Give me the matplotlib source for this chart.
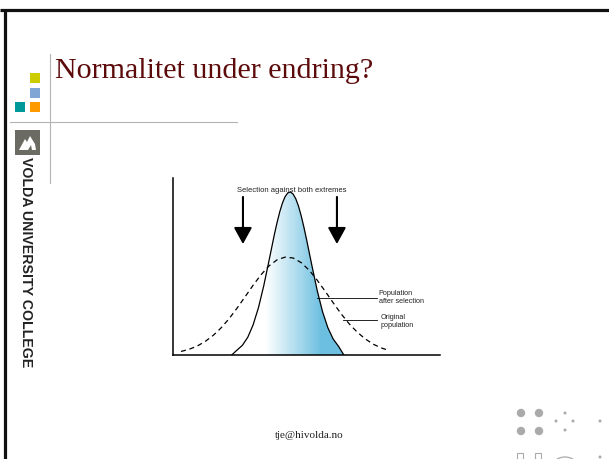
#!/usr/bin/python3
# -*- coding: utf8 -*-

# slide: stabiliserende seleksjon, to normalfordelinger
import numpy as np
import matplotlib
matplotlib.use('Agg')
from matplotlib import pyplot as plt
from matplotlib.colors import LinearSegmentedColormap
from matplotlib.patches import Rectangle, Circle, Polygon

# ---- data (chart units: x 0..100, y 0..100) ----
x_after = [22, 24, 26, 28, 30, 32, 34, 36, 38, 39, 40, 41, 42, 43, 44,
           45, 46, 47, 48, 49, 50, 52, 54, 56, 58, 60, 62, 64]
y_after = [0.0, 2.8, 5.5, 10.0, 17.0, 26.7, 39.2, 53.6, 68.3, 75.0, 81.0, 85.9, 89.5, 91.6, 92.1,
           90.9, 88.2, 84.1, 78.7, 72.4, 65.4, 50.7, 36.5, 24.5, 15.4, 9.0, 4.9, 0.0]

x_orig = [3, 6, 9, 12, 15, 18, 21, 24, 27, 30, 33, 36, 39, 42,
          45, 48, 51, 54, 57, 60, 63, 66, 69, 72, 75, 78, 81]
y_orig = [2.0, 3.2, 5.0, 7.6, 11.0, 15.3, 20.5, 26.5, 32.9, 39.4, 45.4, 50.4, 53.8, 55.3,
          54.8, 52.2, 47.9, 42.3, 36.0, 29.5, 23.2, 17.6, 12.9, 9.1, 6.1, 4.0, 2.5]

arrow_x = [26.2, 61.4]
arrow_top = 89.3
arrow_tip = 62.7

title = 'Normalitet under endring?'
top_label = 'Selection against both extremes'
lbl_after = 'Population\nafter selection'
lbl_orig = 'Original\npopulation'
footer = 'tje@hivolda.no'
side_text = 'VOLDA UNIVERSITY COLLEGE'

W, H = 609, 459
fig = plt.figure(figsize=(W/100, H/100), dpi=100)

# background axes in pixel coords for slide decoration
bg = fig.add_axes([0, 0, 1, 1])
bg.set_xlim(0, W)
bg.set_ylim(H, 0)
bg.axis('off')

# frame
bg.plot([0, W], [9.5, 9.5], color='#111111', lw=2.3, solid_capstyle='butt')
bg.plot([4.5, 4.5], [8.5, H], color='#111111', lw=2.3, solid_capstyle='butt')

# squares
for (sx, sy, c) in [(30, 73, '#cccc00'), (30, 88, '#7fa6d4'),
                    (15, 102, '#00999a'), (30, 102, '#ff9900')]:
	bg.add_patch(Rectangle((sx, sy), 10, 10, color=c, lw=0))

# gray guide lines
bg.plot([49.5, 49.5], [54, 183], color='#b4b4b4', lw=0.8)
bg.plot([10, 237], [121.5, 121.5], color='#b4b4b4', lw=0.8)

# logo
bg.add_patch(Rectangle((15, 130), 25, 25, color='#6b6b63', lw=0))
bg.add_patch(Polygon([(19, 150), (25, 139), (27, 142), (30, 136), (35, 144),
                      (36, 150), (32, 150), (31, 145), (28, 150)],
                     closed=True, color='white', lw=0))

bg.text(26, 157, side_text, rotation=-90, ha='center', va='top',
        fontsize=10.2, fontweight='bold', family='Liberation Sans', color='#222222')

# title
bg.text(55, 78, title, ha='left', va='baseline', fontsize=21.6,
        family='Liberation Serif', color='#5c0a0a')

# footer
bg.text(309, 436, footer, ha='center', va='center', fontsize=8,
        family='Liberation Serif', color='#222222')

# decorative dots bottom right
dot = '#aaaaaa'
for (cx, cy) in [(521, 413), (539, 413), (521, 431), (539, 431)]:
	bg.add_patch(Circle((cx, cy), 4.2, color=dot, lw=0))
for (cx, cy) in [(565, 413), (556, 421), (573, 421), (565, 430), (600, 421), (600, 457)]:
	bg.add_patch(Circle((cx, cy), 1.5, color=dot, lw=0))
for sx in [517, 535]:
	bg.add_patch(Rectangle((sx, 453), 6, 6, fill=False, ec=dot, lw=0.8))
bg.add_patch(Circle((565, 473), 16, fill=False, ec=dot, lw=0.9))

# ---- the chart ----
ax = fig.add_axes([173/W, (H-355)/H, 267/W, 177/H])
ax.set_xlim(0, 100)
ax.set_ylim(0, 100)
ax.patch.set_alpha(0)
for s in ['top', 'right']:
	ax.spines[s].set_visible(False)
for s in ['left', 'bottom']:
	ax.spines[s].set_linewidth(1.1)
	ax.spines[s].set_color('black')
ax.set_xticks([])
ax.set_yticks([])

# gradient fill under the selected population
blue = LinearSegmentedColormap.from_list('wb', ['#ffffff', '#6cbfe0'])
gx = np.linspace(x_after[0], x_after[-1], 300)
grad = np.clip((gx - 34.5) / 21.0, 0, 1)[None, :]
im = ax.imshow(grad, cmap=blue, vmin=0, vmax=1, aspect='auto',
               extent=[x_after[0], x_after[-1], 0, max(y_after)], origin='lower', zorder=1)
poly = Polygon(list(zip(x_after, y_after)), closed=True, fc='none', ec='none',
               transform=ax.transData)
ax.add_patch(poly)
im.set_clip_path(poly)

ax.plot(x_after, y_after, color='black', lw=0.9, zorder=3)
ax.plot(x_orig, y_orig, color='black', lw=0.9, ls=(0, (4, 3)), zorder=3)

for xa in arrow_x:
	ax.annotate('', xy=(xa, arrow_tip), xytext=(xa, arrow_top),
	            arrowprops=dict(arrowstyle='-|>,head_length=1.0,head_width=0.55',
	                            mutation_scale=10, color='black', lw=1.5,
	                            shrinkA=0, shrinkB=0))

ax.text(44.6, 93.2, top_label, ha='center', va='center', fontsize=5.5,
        family='Liberation Sans', color='#222222', zorder=4)

# leader lines + labels
ax.plot([53.9, 76.4], [32.2, 32.2], color='black', lw=0.6)
ax.plot([63.7, 76.4], [19.8, 19.8], color='black', lw=0.6)
ax.text(77.0, 32.5, lbl_after, ha='left', va='center', fontsize=5.2,
        family='Liberation Sans', color='#222222', linespacing=1.2)
ax.text(77.6, 18.8, lbl_orig, ha='left', va='center', fontsize=5.2,
        family='Liberation Sans', color='#222222', linespacing=1.2)

fig.savefig('out.png', dpi=100)
